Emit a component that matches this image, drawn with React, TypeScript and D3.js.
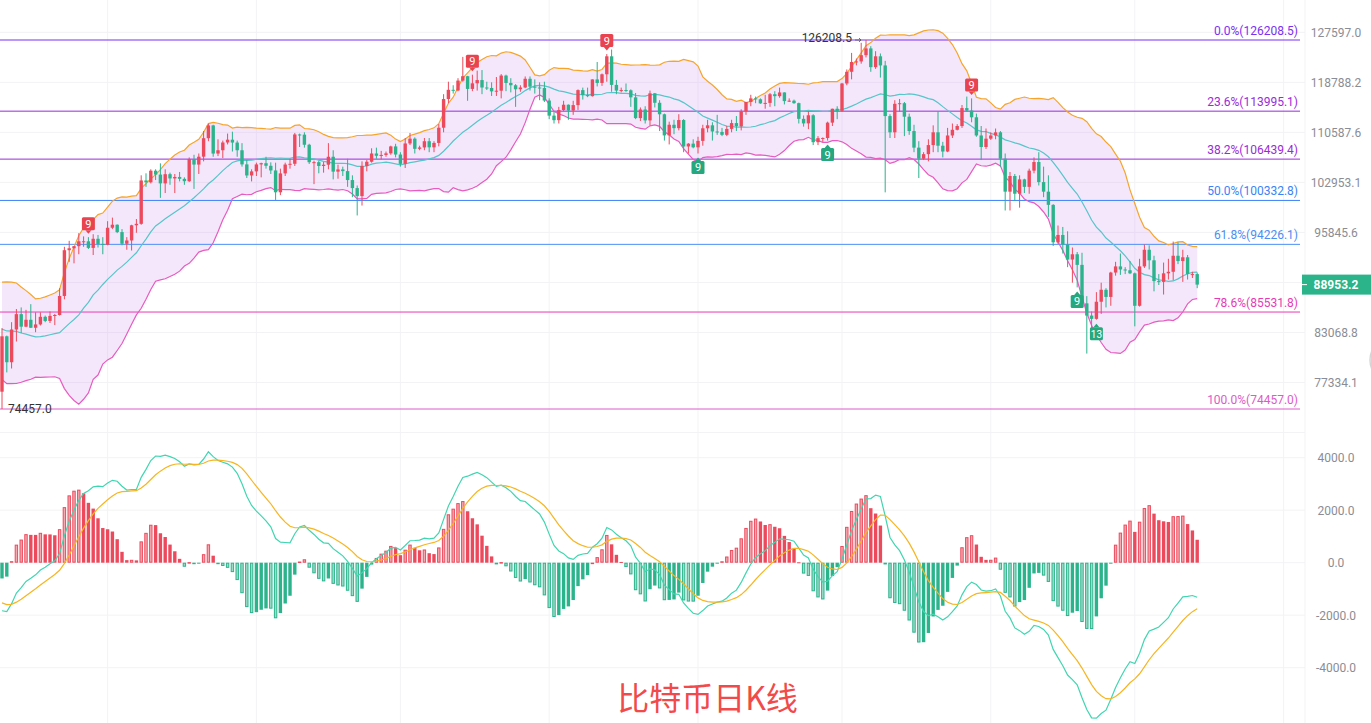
import React from 'react';
import * as d3 from 'd3';

// ---------- DATA (BTC daily, 2025-04-09 .. 2025-12-14) ----------
const startDate = '2025-04-09';

const opens = [
  76322, 82615, 79607, 83423, 85276, 83760, 84590, 83630, 84030, 84950, 84450, 85060, 85170, 87520, 93440, 93700, 93980, 94640, 94640, 93750, 94980, 94280,
  94170, 96490, 96910, 95890, 94310, 94750, 96830, 97030, 103240, 102970, 104690, 104110, 102810, 104170, 103540, 103760, 103480, 103130, 106450, 105610, 106810, 109670, 111700, 107290, 107800, 109000, 109440, 108990, 107800, 105640, 103980,
  104590, 105640, 105820, 105430, 104730, 101510, 104290, 105620, 105730, 110260, 110230, 108650, 105970, 105980, 105400, 105590, 106800, 104550, 104880, 104630, 103300, 102120, 100960, 105400, 106040, 107300, 106950, 107080, 107320, 108390,
  107140, 105720, 108850, 109600, 108020, 108230, 109200, 108250, 108930, 111330, 115990, 117530, 117420, 119090, 119840, 117680, 118630, 119180, 117920, 117840, 117270, 117380, 119950, 118690, 118300, 117620, 117920, 119400, 118060, 117920, 117830,
  115740, 113270, 112540, 114180, 115050, 114100, 114990, 117480, 116650, 116470, 119290, 118690, 120170, 123300, 118360, 117400, 117490, 117450, 116270, 112870, 114270, 112500, 116940, 115370, 113490, 110110, 111800, 111260, 112560, 108380, 108820,
  108250, 109250, 111240, 111710, 110730, 110660, 110200, 111140, 112070, 111550, 113960, 115500, 116100, 115950, 115270, 115350, 116790, 116470, 117090, 115650, 115720, 115310, 112750, 112020, 113330, 109050, 109680, 109700, 112140, 114390,
  114050, 118600, 120600, 122300, 122400, 123500, 124700, 121400, 123300, 121700, 113200, 110600, 115200, 115300, 113100, 110800, 108200, 106500, 107200, 108600, 110600, 108500, 107600, 110100, 111000, 111600, 114500, 114100, 113000, 110100, 108300,
  109600, 110100, 110600, 106500, 101600, 103900, 101300, 103400, 102300, 104700, 106000, 103000, 101600, 99700, 94500, 95500, 94200, 92200, 92900, 91500, 86600, 85100, 84700, 86800, 88300, 87400, 90500, 91300, 90900, 90800,
  90400, 86300, 91300, 93500, 92100, 89400, 89300, 90400, 90600, 92700, 92000, 92500, 90300, 90300,
];

const highs = [
  83588, 82700, 84300, 85900, 86100, 85800, 86500, 85500, 85500, 85100, 85600, 85300, 88500, 93900, 94700, 94000, 95750, 95300, 95200, 95600, 95500, 95200,
  97400, 97900, 96950, 96300, 95200, 96900, 97700, 104000, 104300, 104900, 104900, 105800, 104900, 104400, 104200, 104500, 103700, 106700, 107100, 107300, 110800, 111980, 111800, 109500, 109300, 110400, 110700, 109300, 108900, 106300, 104900,
  105900, 105900, 106800, 105950, 105900, 105000, 105900, 106500, 110500, 110400, 110600, 108800, 106200, 106200, 106000, 108900, 107800, 105600, 105300, 106500, 104000, 102500, 106100, 106300, 108100, 108200, 107700, 107600, 108500, 108800,
  107500, 109700, 110500, 109800, 108500, 109700, 109700, 109200, 111900, 116800, 118900, 118300, 119500, 123200, 119900, 120100, 120800, 120900, 118900, 118800, 119700, 120200, 120100, 119500, 118500, 118300, 119800, 119800, 119300, 118800, 118900,
  116100, 114000, 114700, 115700, 115100, 115700, 117600, 117900, 117900, 119300, 122300, 120300, 123700, 124500, 119200, 117900, 118600, 117600, 117000, 114600, 114800, 117400, 117000, 115800, 113600, 112300, 112600, 113500, 112700, 108900, 109500,
  109900, 111800, 112600, 112200, 113400, 111300, 111600, 112600, 113200, 114300, 115500, 116700, 116400, 116100, 116700, 117000, 117300, 117900, 117100, 116100, 115900, 115400, 113300, 114000, 113500, 110000, 109800, 112300, 114400, 114800,
  118700, 121000, 123900, 122900, 125700, 126208.5, 125100, 124200, 123800, 122500, 113500, 115800, 116000, 115500, 113600, 111800, 109200, 107500, 109500, 111700, 114000, 109100, 111300, 112000, 111900, 115000, 116400, 116100, 113600, 111600, 111200,
  110600, 111200, 110800, 107300, 104500, 104200, 104000, 103500, 105000, 106700, 107500, 105300, 104000, 99800, 96800, 96600, 96000, 93800, 93200, 93100, 87500, 85600, 88000, 89200, 88500, 90600, 91900, 93000, 91200, 92000,
  90500, 92300, 94200, 94100, 92700, 90300, 91800, 92300, 94600, 94500, 93500, 92800, 90600, 90500,
];

const lows = [
  74457, 78456, 78900, 82000, 83000, 83700, 83600, 83100, 83900, 84300, 84200, 83950, 85100, 87100, 91900, 91700, 92900, 93900, 93600, 92800, 93800, 92900,
  94100, 96300, 95750, 94100, 93500, 93400, 95800, 96900, 102300, 102800, 103300, 100700, 101400, 102600, 101400, 103100, 102600, 103000, 102000, 104200, 106100, 109200, 106800, 106900, 106600, 108700, 107600, 106800, 105300, 103600, 103100,
  103900, 103700, 105000, 104200, 100400, 101100, 103900, 105000, 105400, 108300, 108200, 105700, 102700, 104300, 104400, 104900, 103400, 103500, 103900, 102300, 100800, 98200, 99600, 104600, 105900, 106500, 106400, 106800, 107100, 106700,
  105300, 105100, 108600, 107300, 107800, 107800, 107500, 107500, 108400, 110600, 115300, 116900, 117300, 118900, 115700, 117300, 117400, 116800, 117500, 116500, 116500, 116100, 117300, 117100, 114700, 117200, 117800, 117400, 116900, 115800, 115500,
  112700, 112000, 112000, 114000, 112600, 113400, 114200, 115900, 116300, 116400, 118100, 118200, 118900, 117200, 116800, 117100, 117200, 114700, 112700, 112400, 112000, 111700, 114600, 110800, 109300, 108700, 110300, 110900, 107500, 107300, 108100,
  107300, 108500, 110600, 109300, 110200, 110000, 110000, 110600, 110800, 110900, 113400, 114800, 115300, 115200, 114400, 114700, 114800, 116200, 115100, 115500, 115200, 112000, 111500, 111100, 108600, 108600, 109100, 109300, 111600, 112700,
  113900, 118300, 119300, 121700, 122000, 123100, 120600, 121100, 119600, 101500, 109700, 109700, 113900, 110000, 110200, 107500, 103600, 106300, 106100, 107500, 107500, 106700, 107500, 109700, 110900, 111300, 114000, 112200, 109900, 106300, 108000,
  109400, 109500, 105300, 98900, 98900, 100300, 99300, 101400, 101300, 104300, 102500, 100800, 98000, 94000, 94300, 93000, 91200, 89200, 88600, 86100, 80600, 83500, 84600, 85300, 86100, 86300, 90100, 90200, 90300, 90300,
  83800, 86200, 91100, 90900, 88100, 88900, 87700, 89600, 89500, 91600, 89300, 89600, 89800, 88500,
];

const closes = [
  82615, 79607, 83423, 85276, 83760, 84590, 83630, 84030, 84950, 84450, 85060, 85170, 87520, 93440, 93700, 93980, 94640, 94640, 93750, 94980, 94280, 94170,
  96490, 96910, 95890, 94310, 94750, 96830, 97030, 103240, 102970, 104690, 104110, 102810, 104170, 103540, 103760, 103480, 103130, 106450, 105610, 106810, 109670, 111700, 107290, 107800, 109000, 109440, 108990, 107800, 105640, 103980, 104590,
  105640, 105820, 105430, 104730, 101510, 104290, 105620, 105730, 110260, 110230, 108650, 105970, 105980, 105400, 105590, 106800, 104550, 104880, 104630, 103300, 102120, 100960, 105400, 106040, 107300, 106950, 107080, 107320, 108390, 107140,
  105720, 108850, 109600, 108020, 108230, 109200, 108250, 108930, 111330, 115990, 117530, 117420, 119090, 119840, 117680, 118630, 119180, 117920, 117840, 117270, 117380, 119950, 118690, 118300, 117620, 117920, 119400, 118060, 117920, 117830, 115740,
  113270, 112540, 114180, 115050, 114100, 114990, 117480, 116650, 116470, 119290, 118690, 120170, 123300, 118360, 117400, 117490, 117450, 116270, 112870, 114270, 112500, 116940, 115370, 113490, 110110, 111800, 111260, 112560, 108380, 108820, 108250,
  109250, 111240, 111710, 110730, 110660, 110200, 111140, 112070, 111550, 113960, 115500, 116100, 115950, 115270, 115350, 116790, 116470, 117090, 115650, 115720, 115310, 112750, 112020, 113330, 109050, 109680, 109700, 112140, 114390, 114050,
  118600, 120600, 122300, 122400, 123500, 124700, 121400, 123300, 121700, 113200, 110600, 115200, 115300, 113100, 110800, 108200, 106500, 107200, 108600, 110600, 108500, 107600, 110100, 111000, 111600, 114500, 114100, 113000, 110100, 108300, 109600,
  110100, 110600, 106500, 101600, 103900, 101300, 103400, 102300, 104700, 106000, 103000, 101600, 99700, 94500, 95500, 94200, 92200, 92900, 91500, 86600, 85100, 84700, 86800, 88300, 87400, 90500, 91300, 90900, 90800, 90400,
  86300, 91300, 93500, 92100, 89400, 89300, 90400, 90600, 92700, 92000, 92500, 90300, 90300, 88953.2,
];

// closes of the 19 sessions before the first candle (Bollinger warm-up)
const warmupCloses = [84000, 83800, 86100, 87500, 87400, 86900, 87200, 84400, 82600, 82400, 82500, 85200, 82500, 83100, 83800, 83500, 78400, 79200, 76300];
// MACD state on the first candle
const macdSeedEma12 = 81700;
const macdSeedEma26 = 83530;
const macdSeedDea = -1530;

const monthStartIdx = [22, 53, 83, 114, 145, 175, 206, 236, 267];

const fibHigh = 126208.5;
const fibLow = 74457.0;
const fibRatios = [0, 0.236, 0.382, 0.5, 0.618, 0.786, 1];
const fibLabels = ['0.0%', '23.6%', '38.2%', '50.0%', '61.8%', '78.6%', '100.0%'];

const priceTicks = [127597.0, 118788.2, 110587.6, 102953.1, 95845.6, 89227.0, 83068.8, 77334.1];
const macdTicks = [4000, 2000, 0, -2000, -4000];

const tdSell = [{ i: 18, t: '9' }, { i: 98, t: '9' }, { i: 126, t: '9' }, { i: 202, t: '9' }];
const tdBuy = [{ i: 145, t: '9' }, { i: 172, t: '9' }, { i: 224, t: '9' }, { i: 228, t: '13' }];

const title = '比特币日K线';

// ---------- STYLE ----------
const RED = '#ec4a5c';
const GREEN = '#2bb38c';
const RED_LIGHT = '#f6a9b1';
const GREEN_LIGHT = '#9edcc8';
const fibColors = ['#7b2ff2', '#9a2bd8', '#9a2bd8', '#3b82f6', '#4a8ef5', '#e63ab5', '#dd5bc8'];
const FONT = 'Roboto, "Liberation Sans", Arial, sans-serif';

export default function App() {
  const W = 1371;
  const H = 723;
  const n = closes.length;
  const plotRight = 1305;

  const x = d3.scaleLinear().domain([0, n - 1]).range([2, 1197.2]);
  const y = d3.scaleLog().domain([fibLow, fibHigh]).range([409, 40]);
  const ym = d3.scaleLinear().domain([-4000, 4000]).range([667.7, 457.7]);

  // Bollinger (20, 2)
  const all = [...warmupCloses, ...closes];
  const bb = closes.map((_, i) => {
    const win = all.slice(i, i + 20);
    const m = d3.mean(win) as number;
    const sd = Math.sqrt(d3.mean(win.map((v) => (v - m) * (v - m))) as number);
    return { mid: m, up: m + 2 * sd, lo: m - 2 * sd };
  });

  // MACD (12, 26, 9)
  let e12 = macdSeedEma12;
  let e26 = macdSeedEma26;
  let dea = macdSeedDea;
  const macd = closes.map((c, i) => {
    if (i > 0) {
      e12 = e12 + ((c - e12) * 2) / 13;
      e26 = e26 + ((c - e26) * 2) / 27;
    }
    const dif = e12 - e26;
    if (i > 0) dea = dea + ((dif - dea) * 2) / 10;
    return { dif, dea, hist: 2 * (dif - dea) };
  });

  const idx = d3.range(n);
  const area = d3
    .area<number>()
    .x((i) => x(i))
    .y0((i) => y(bb[i].lo))
    .y1((i) => y(bb[i].up));
  const lineOf = (f: (i: number) => number) => d3.line<number>().x((i) => x(i)).y(f)(idx) as string;

  const bodyW = 3.4;
  const lastClose = closes[n - 1];
  const yLast = y(lastClose);

  return (
    <svg width={W} height={H} style={{ position: 'absolute', left: 0, top: 0, background: '#fff' }} fontFamily={FONT}>
      <rect x={0} y={0} width={W} height={H} fill="#fff" />
      {/* vertical month grid */}
      {monthStartIdx.map((m) => (
        <line key={'v' + m} x1={x(m)} x2={x(m)} y1={0} y2={H} stroke="#f3f3f5" strokeWidth={1} />
      ))}
      <line x1={plotRight} x2={plotRight} y1={0} y2={H} stroke="#f3f3f5" />
      {/* horizontal price grid */}
      {priceTicks.map((t) => (
        <line key={'h' + t} x1={0} x2={plotRight} y1={y(t)} y2={y(t)} stroke="#f3f3f5" />
      ))}
      <line x1={0} x2={plotRight} y1={432.5} y2={432.5} stroke="#f3f3f5" />
      {macdTicks.map((t) => (
        <line key={'mh' + t} x1={0} x2={plotRight} y1={ym(t)} y2={ym(t)} stroke="#f3f3f5" />
      ))}

      {/* Bollinger fill */}
      <path d={area(idx) as string} fill="rgba(190,110,240,0.17)" />

      {/* Fibonacci */}
      {fibRatios.map((r, k) => {
        const v = fibHigh - r * (fibHigh - fibLow);
        const yy = y(v);
        return (
          <g key={'f' + k}>
            <line x1={0} x2={1300} y1={yy} y2={yy} stroke={fibColors[k]} strokeWidth={1} />
            <text x={1298} y={yy - 5} textAnchor="end" fontSize={12} fill={fibColors[k]}>
              {fibLabels[k]}({v.toFixed(1)})
            </text>
          </g>
        );
      })}

      {/* Bollinger lines */}
      <path d={lineOf((i) => y(bb[i].up))} fill="none" stroke="#f6a52a" strokeWidth={1.2} />
      <path d={lineOf((i) => y(bb[i].mid))} fill="none" stroke="#55c6c9" strokeWidth={1.2} />
      <path d={lineOf((i) => y(bb[i].lo))} fill="none" stroke="#e85bbf" strokeWidth={1.2} />

      {/* candles */}
      {idx.map((i) => {
        const o = opens[i];
        const c = closes[i];
        const col = c >= o ? RED : GREEN;
        const top = y(Math.max(o, c));
        const bot = y(Math.min(o, c));
        return (
          <g key={'c' + i}>
            <line x1={x(i)} x2={x(i)} y1={y(highs[i])} y2={y(lows[i])} stroke={col} strokeWidth={1} />
            <rect x={x(i) - bodyW / 2} y={top} width={bodyW} height={Math.max(1, bot - top)} fill={col} />
          </g>
        );
      })}

      {/* TD sequential markers */}
      {tdSell.map((d) => {
        const cx = x(d.i);
        const b = y(highs[d.i]) - 7;
        return (
          <g key={'ts' + d.i}>
            <rect x={cx - 6.5} y={b - 13} width={13} height={13} rx={1.5} fill="#e8434f" />
            <path d={`M${cx - 3},${b} L${cx + 3},${b} L${cx},${b + 3.5} Z`} fill="#e8434f" />
            <text x={cx} y={b - 2.5} textAnchor="middle" fontSize={11} fill="#fff">
              {d.t}
            </text>
          </g>
        );
      })}
      {tdBuy.map((d) => {
        const cx = x(d.i);
        const t = y(lows[d.i]) + 7.5;
        return (
          <g key={'tb' + d.i}>
            <rect x={cx - 6.5} y={t} width={13} height={13} rx={1.5} fill="#26a87f" />
            <path d={`M${cx - 3},${t} L${cx + 3},${t} L${cx},${t - 3.5} Z`} fill="#26a87f" />
            <text x={cx} y={t + 10.5} textAnchor="middle" fontSize={d.t.length > 1 ? 10 : 11} fill="#fff">
              {d.t}
            </text>
          </g>
        );
      })}

      {/* high / low labels */}
      {(() => {
        const hi = d3.maxIndex(highs);
        const lo = d3.minIndex(lows);
        const hy = y(highs[hi]);
        const ly = y(lows[lo]);
        return (
          <g>
            <text x={x(hi) - 14} y={hy + 2} textAnchor="end" fontSize={12} fill="#333">
              {highs[hi].toFixed(1)}
            </text>
            <path d={`M${x(hi) - 11},${hy} L${x(hi) - 5},${hy} M${x(hi) - 7},${hy - 2} L${x(hi) - 5},${hy} L${x(hi) - 7},${hy + 2}`} fill="none" stroke="#555" strokeWidth={0.8} />
            <text x={x(lo) + 6} y={ly + 4} textAnchor="start" fontSize={12} fill="#333">
              {lows[lo].toFixed(1)}
            </text>
          </g>
        );
      })()}

      {/* price axis */}
      {priceTicks.map((t) =>
        Math.abs(y(t) - yLast) < 12 ? null : (
          <text key={'pt' + t} x={1336} y={y(t) + 4.3} textAnchor="middle" fontSize={12} fill="#8a8d95">
            {t.toFixed(1)}
          </text>
        )
      )}
      <rect x={1302} y={yLast - 10} width={W - 1302} height={20} fill="#2bb38a" />
      <line x1={1302} x2={1307} y1={yLast} y2={yLast} stroke="#fff" strokeWidth={1} />
      <text x={1336} y={yLast + 4.5} textAnchor="middle" fontSize={12} fontWeight="bold" fill="#fff">
        {lastClose.toFixed(1)}
      </text>
      <circle cx={1392} cy={360} r={22} fill="#fafafa" stroke="#d5d5d5" strokeWidth={1.5} />

      {/* MACD histogram */}
      {idx.map((i) => {
        const v = macd[i].hist;
        const prev = i > 0 ? macd[i - 1].hist : v;
        const pos = v >= 0;
        const growing = pos ? v > prev : v < prev;
        const col = pos ? RED : GREEN;
        const y0 = ym(0);
        const y1 = ym(v);
        const top = Math.min(y0, y1);
        const h = Math.max(1, Math.abs(y1 - y0));
        return growing ? (
          <rect key={'m' + i} x={x(i) - bodyW / 2 + 0.5} y={top + 0.5} width={bodyW - 1} height={Math.max(0.5, h - 1)} fill={pos ? RED_LIGHT : GREEN_LIGHT} stroke={col} strokeWidth={1} />
        ) : (
          <rect key={'m' + i} x={x(i) - bodyW / 2} y={top} width={bodyW} height={h} fill={col} />
        );
      })}
      <path d={lineOf((i) => ym(macd[i].dif))} fill="none" stroke="#40d6b0" strokeWidth={1.2} />
      <path d={lineOf((i) => ym(macd[i].dea))} fill="none" stroke="#f7b520" strokeWidth={1.2} />

      {macdTicks.map((t) => (
        <text key={'mt' + t} x={1336} y={ym(t) + 4.3} textAnchor="middle" fontSize={12} fill="#8a8d95">
          {t.toFixed(1)}
        </text>
      ))}

      <text x={707.5} y={710} textAnchor="middle" fontSize={32} fill="#f24a4a" fontFamily='"Noto Sans CJK SC", sans-serif'>
        {title}
      </text>
      <desc>{startDate}</desc>
    </svg>
  );
}
